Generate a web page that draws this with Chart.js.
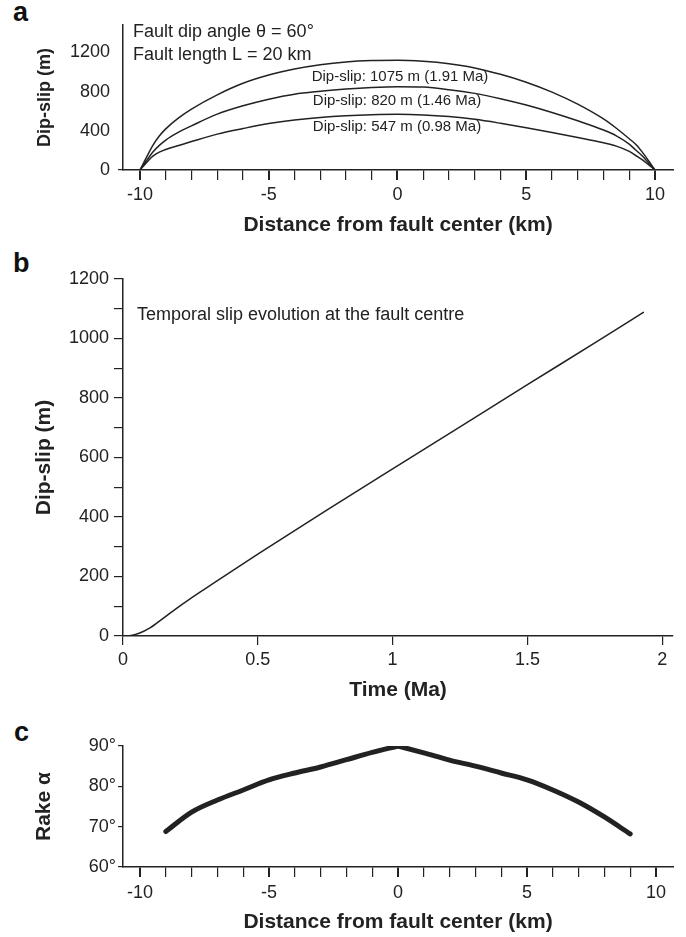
<!DOCTYPE html>
<html>
<head>
<meta charset="utf-8">
<script src="https://cdn.jsdelivr.net/npm/chart.js@4.4.1/dist/chart.umd.min.js"></script>
<style>
  body { margin: 0; background: #fff; }
  #wrap { position: relative; width: 686px; height: 937px; font-family: "Liberation Sans", Arial, sans-serif; }
  canvas { position: absolute; left: 0; }
  .tag { position: absolute; font-weight: bold; font-size: 27px; line-height: 1; color: #111; }
</style>
</head>
<body>
<div id="wrap">
  <div class="tag" style="left:13px;top:-1px">a</div>
  <div class="tag" style="left:13px;top:250px">b</div>
  <div class="tag" style="left:14px;top:719px">c</div>
  <canvas id="chartA" width="686" height="240" style="top:0"></canvas>
  <canvas id="chartB" width="686" height="470" style="top:240px"></canvas>
  <canvas id="chartC" width="686" height="227" style="top:710px"></canvas>
</div>
<script>
var FONT = '"Liberation Sans", Arial, sans-serif';
var INK = "#222";

// panel a: slip profiles along the fault
var distA = [-10, -9.75, -9.5, -9.25, -9, -8.5, -8, -7, -6, -5, -4, -3, -2, -1, 0,
             1, 2, 3, 4, 5, 6, 7, 8, 8.5, 9, 9.25, 9.5, 9.75, 10];
var slip1075 = [0, 129, 252, 347, 420, 532, 622, 767, 885, 969, 1030, 1074, 1103, 1117, 1120,
                1109, 1084, 1042, 977, 896, 795, 672, 521, 426, 319, 263, 185, 95, 0];
var slip820 = [0, 94, 183, 251, 306, 387, 451, 570, 655, 723, 774, 803, 826, 842, 850,
               846, 820, 782, 728, 663, 587, 502, 408, 349, 264, 204, 145, 72, 0];
var slip547 = [0, 74, 142, 182, 210, 250, 290, 366, 423, 474, 511, 537, 554, 564, 568,
               562, 545, 517, 477, 432, 383, 332, 278, 244, 190, 148, 105, 54, 0];
var profileLabels = ["Dip-slip: 1075 m (1.91 Ma)", "Dip-slip: 820 m (1.46 Ma)", "Dip-slip: 547 m (0.98 Ma)"];
var slipTicksA = [0, 400, 800, 1200];

// panel b: slip at the centre through time
var timeMa = [0, 0.03, 0.06, 0.1, 0.15, 0.2, 0.25, 0.3, 0.5, 0.75, 1.0, 1.25, 1.5, 1.75, 1.93];
var slipCentre = [0, 2, 9, 27, 60, 94, 126, 156, 275, 420, 562, 703, 845, 985, 1088];

// panel c: rake along the fault
var distLeft = [-9, -8, -7, -6, -5, -4, -3, -2, -1, 0];
var rakeLeft = [68.8, 73.6, 76.6, 79.1, 81.6, 83.3, 84.8, 86.6, 88.4, 90];
var distRight = [0, 1, 2, 3, 4, 5, 6, 7, 8, 9];
var rakeRight = [90, 88.3, 86.5, 85, 83.3, 81.6, 79.1, 76.1, 72.4, 68.2];

function pts(xs, ys) {
  return xs.map(function (x, i) { return { x: x, y: ys[i] }; });
}

function line(data, width) {
  return {
    data: data,
    borderColor: INK,
    borderWidth: width,
    pointRadius: 0,
    cubicInterpolationMode: "monotone",
    borderCapStyle: "round",
    borderJoinStyle: "round"
  };
}

// draws free text notes on the canvas
var notes = {
  id: "notes",
  afterDatasetsDraw: function (chart, args, opts) {
    var ctx = chart.ctx;
    (opts.items || []).forEach(function (n) {
      ctx.save();
      ctx.font = n.font;
      ctx.fillStyle = INK;
      ctx.textAlign = n.align || "left";
      ctx.textBaseline = "middle";
      ctx.fillText(n.text, n.x, n.y);
      ctx.restore();
    });
  }
};

function xAxis(o) {
  return {
    type: "linear",
    min: o.min,
    max: o.max,
    border: { color: INK, width: 1.5 },
    grid: {
      drawOnChartArea: false,
      tickLength: o.tickLength,
      color: INK,
      lineWidth: o.tickWidth || 1.2
    },
    ticks: {
      stepSize: o.step,
      includeBounds: false,
      autoSkip: false,
      maxRotation: 0,
      padding: o.pad,
      color: INK,
      font: { family: FONT, size: 18 },
      callback: o.label || function (v) { return String(v); }
    },
    title: {
      display: true,
      text: o.title,
      color: INK,
      font: { family: FONT, size: 21, weight: "bold" },
      padding: { top: 0, bottom: o.titlePad }
    },
    afterFit: function (s) { s.height = o.height; }
  };
}

function yAxis(o) {
  var axis = {
    type: "linear",
    min: o.min,
    max: o.max,
    border: { color: INK, width: 1.5 },
    grid: {
      drawOnChartArea: false,
      drawTicks: true,
      tickLength: o.tickLength,
      color: o.tickColor || INK,
      lineWidth: 1.2
    },
    ticks: {
      stepSize: o.step,
      includeBounds: false,
      autoSkip: false,
      padding: o.pad,
      color: INK,
      font: { family: FONT, size: 18 },
      callback: o.label || function (v) { return String(v); }
    },
    title: {
      display: true,
      text: o.title,
      color: INK,
      font: { family: FONT, size: o.titleSize, weight: "bold" },
      padding: { top: o.titlePad, bottom: 0 }
    },
    afterFit: function (s) { s.width = 123; }
  };
  if (o.tickValues) {
    axis.afterBuildTicks = function (s) {
      s.ticks = o.tickValues.map(function (v) { return { value: v }; });
    };
  }
  return axis;
}

function baseOptions(top, scales, items) {
  return {
    responsive: false,
    animation: false,
    layout: { padding: { top: top, right: 13, left: 0, bottom: 0 } },
    plugins: { legend: { display: false }, tooltip: { enabled: false }, notes: { items: items } },
    scales: scales
  };
}

Chart.register(notes);

// ---- a ----
new Chart(document.getElementById("chartA"), {
  type: "line",
  data: {
    datasets: [
      line(pts(distA, slip1075), 1.5),
      line(pts(distA, slip820), 1.5),
      line(pts(distA, slip547), 1.5)
    ]
  },
  options: baseOptions(25, {
    x: xAxis({
      min: -10.66, max: 10.7, step: 1, tickLength: 10, pad: 4, height: 70, titlePad: 2,
      tickWidth: function (c) { return c.tick && c.tick.value % 5 === 0 ? 2 : 1.2; },
      label: function (v) { return v % 5 === 0 ? String(v) : ""; },
      title: "Distance from fault center (km)"
    }),
    y: yAxis({
      min: 0, max: 1480, tickValues: slipTicksA, tickLength: 5, pad: 8, titleSize: 18, titlePad: 34,
      tickColor: function (c) { return c.tick && c.tick.value === 0 ? INK : "rgba(0,0,0,0)"; },
      title: "Dip-slip (m)"
    })
  }, [
    { text: "Fault dip angle \u03b8 = 60\u00b0", x: 133, y: 32, font: "18px " + FONT },
    { text: "Fault length L = 20 km", x: 133, y: 55, font: "18px " + FONT },
    { text: profileLabels[0], x: 400, y: 77, align: "center", font: "15px " + FONT },
    { text: profileLabels[1], x: 397, y: 101, align: "center", font: "15px " + FONT },
    { text: profileLabels[2], x: 397, y: 127, align: "center", font: "15px " + FONT }
  ])
});

// ---- b ----
new Chart(document.getElementById("chartB"), {
  type: "line",
  data: { datasets: [line(pts(timeMa, slipCentre), 1.5)] },
  options: baseOptions(39, {
    x: xAxis({
      min: 0, max: 2.04, step: 0.5, tickLength: 9, pad: 4, height: 74, titlePad: 7,
      title: "Time (Ma)"
    }),
    y: yAxis({
      min: 0, max: 1200, step: 100, tickLength: 9, pad: 5, titleSize: 21, titlePad: 32,
      label: function (v) { return v % 200 === 0 ? String(v) : ""; },
      title: "Dip-slip (m)"
    })
  }, [
    { text: "Temporal slip evolution at the fault centre", x: 137, y: 75, font: "18px " + FONT }
  ])
});

// ---- c ----
new Chart(document.getElementById("chartC"), {
  type: "line",
  data: {
    datasets: [
      line(pts(distLeft, rakeLeft), 5),
      line(pts(distRight, rakeRight), 5)
    ]
  },
  options: baseOptions(36, {
    x: xAxis({
      min: -10.66, max: 10.66, step: 1, tickLength: 10, pad: 5, height: 70, titlePad: 2,
      tickWidth: function (c) { return c.tick && c.tick.value % 5 === 0 ? 2 : 1.2; },
      label: function (v) { return v % 5 === 0 ? String(v) : ""; },
      title: "Distance from fault center (km)"
    }),
    y: yAxis({
      min: 60, max: 90, step: 10, tickLength: 5, pad: 2, titleSize: 21, titlePad: 32,
      label: function (v) { return v + "\u00b0"; },
      title: "Rake \u03b1"
    })
  }, [])
});
</script>
</body>
</html>
